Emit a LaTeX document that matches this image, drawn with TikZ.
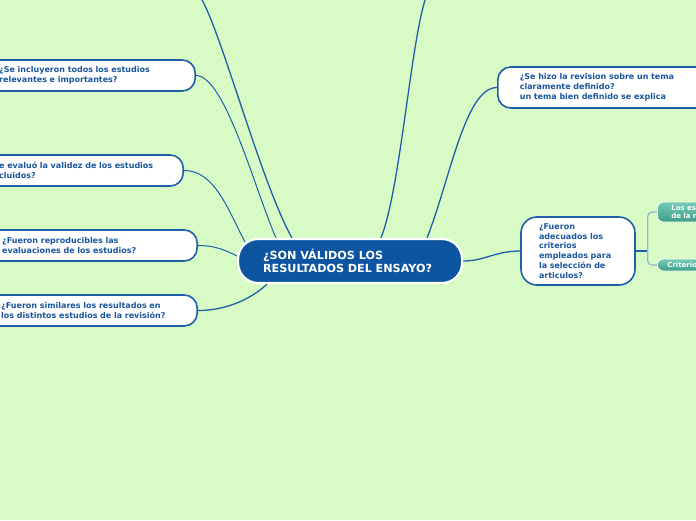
\documentclass[tikz,border=0pt]{standalone}
\usepackage{fontspec}
\setmainfont{DejaVu Sans}
\definecolor{bg}{HTML}{D9FCC6}
\definecolor{stripe}{HTML}{D0F3BD}
\definecolor{qblue}{HTML}{1F5FA8}
\definecolor{qtext}{HTML}{1A56A0}
\definecolor{cblue}{HTML}{0D55A1}
\definecolor{tealtop}{HTML}{74CBB5}
\definecolor{tealbot}{HTML}{3E9E88}
\definecolor{brk}{HTML}{8DB9CB}
\pgfdeclarelayer{paper}
\pgfdeclarelayer{wires}
\pgfsetlayers{paper,wires,main}
\begin{document}
\begin{tikzpicture}[x=1pt,y=-1pt,
  qbox/.style={draw=qblue, line width=1.6pt, fill=white, rounded corners=13pt,
    font=\fontsize{8}{9.8}\selectfont\bfseries, text=qtext, align=left,
    minimum height=31pt, inner ysep=0pt, inner xsep=20pt},
  cbox/.style={draw=white, line width=2.2pt, fill=cblue, rounded corners=20pt,
    font=\fontsize{11.2}{13}\selectfont\bfseries, text=white, align=left,
    minimum height=44pt, inner ysep=0pt, inner xsep=25pt, text width=174pt},
  tbox/.style={draw=white, line width=0.8pt, top color=tealtop, bottom color=tealbot,
    rounded corners=6pt, font=\fontsize{7}{8.3}\selectfont\bfseries, text=white,
    align=left, inner ysep=0pt},
  link/.style={draw=qblue, line width=1.3pt},
  thin/.style={draw=qblue, line width=1pt},
  bracket/.style={draw=brk, line width=1.2pt, rounded corners=4pt}
]
\useasboundingbox (0,0) rectangle (696,520);
\begin{pgfonlayer}{paper}
\fill[bg] (0,0) rectangle (696,520);
\begin{scope}
\clip (0,0) rectangle (696,520);
\foreach \i in {-520,-512,...,696} {
  \draw[stripe, line width=0.35pt] (\i,520) -- (\i+520,0);
}
\end{scope}
\end{pgfonlayer}

% nodes
\node[cbox, anchor=west] (c) at (237,261) {¿SON VÁLIDOS LOS\\RESULTADOS DEL ENSAYO?};
\coordinate (topA) at (202,0);
\coordinate (topF) at (425,0);
\node[qbox, anchor=east, text width=176pt] (b1) at (196,75.5) {¿Se incluyeron todos los estudios\\relevantes e importantes?};
\node[qbox, anchor=east, text width=164pt] (b2) at (184,170.5) {e evaluó la validez de los estudios\\cluidos?};
\node[qbox, anchor=east, text width=175pt] (b3) at (198,245.5) {¿Fueron reproducibles las\\evaluaciones de los estudios?};
\node[qbox, anchor=east, text width=176pt] (b4) at (198,310.5) {¿Fueron similares los resultados en\\los distintos estudios de la revisión?};
\node[qbox, anchor=west, text width=200pt, inner xsep=22pt, minimum height=41pt] (b5) at (497,87.5) {¿Se hizo la revision sobre un tema\\claramente definido?\\un tema bien definido se explica};
\node[qbox, text width=78pt, inner xsep=18pt, minimum height=68pt, rounded corners=16pt] (b6) at (578,251) {¿Fueron\\adecuados los\\criterios\\empleados para\\la selección de\\articulos?};
\node[tbox, anchor=west, minimum height=20pt, inner xsep=14pt, text width=80pt] (t1) at (657,212) {Los est\\de la re};
\node[tbox, anchor=west, minimum height=12pt, inner xsep=10pt, text width=80pt] (t2) at (657,265) {Criterios};

% connectors (under the nodes)
\begin{pgfonlayer}{wires}
\draw[link] (topA) .. controls (222,35) and (262,185) .. ([xshift=55pt]c.north west);
\draw[thin] (b1.east) .. controls (225,75.5) and (255,190) .. ([xshift=39pt]c.north west);
\draw[thin] (b2.east) .. controls (215,170.5) and (228,210) .. ([xshift=8pt,yshift=-4pt]c.north west);
\draw[thin] (b3.east) .. controls (215,245.5) and (225,250) .. ([yshift=5pt]c.west);
\draw[link] (b4.east) .. controls (230,310.5) and (255,296) .. ([xshift=31pt,yshift=1pt]c.south west);
\draw[link] (topF) .. controls (410,50) and (400,190) .. ([xshift=144pt]c.north west);
\draw[link] (b5.west) .. controls (465,87.5) and (450,180) .. ([xshift=190pt]c.north west);
\draw[link] (b6.west) .. controls (495,251) and (485,261) .. (c.east);
\draw[link] (b6.east) -- ([xshift=12pt]b6.east);
\draw[bracket] (t1.west) -| ([xshift=12pt]b6.east) |- (t2.west);
\end{pgfonlayer}
\end{tikzpicture}
\end{document}
